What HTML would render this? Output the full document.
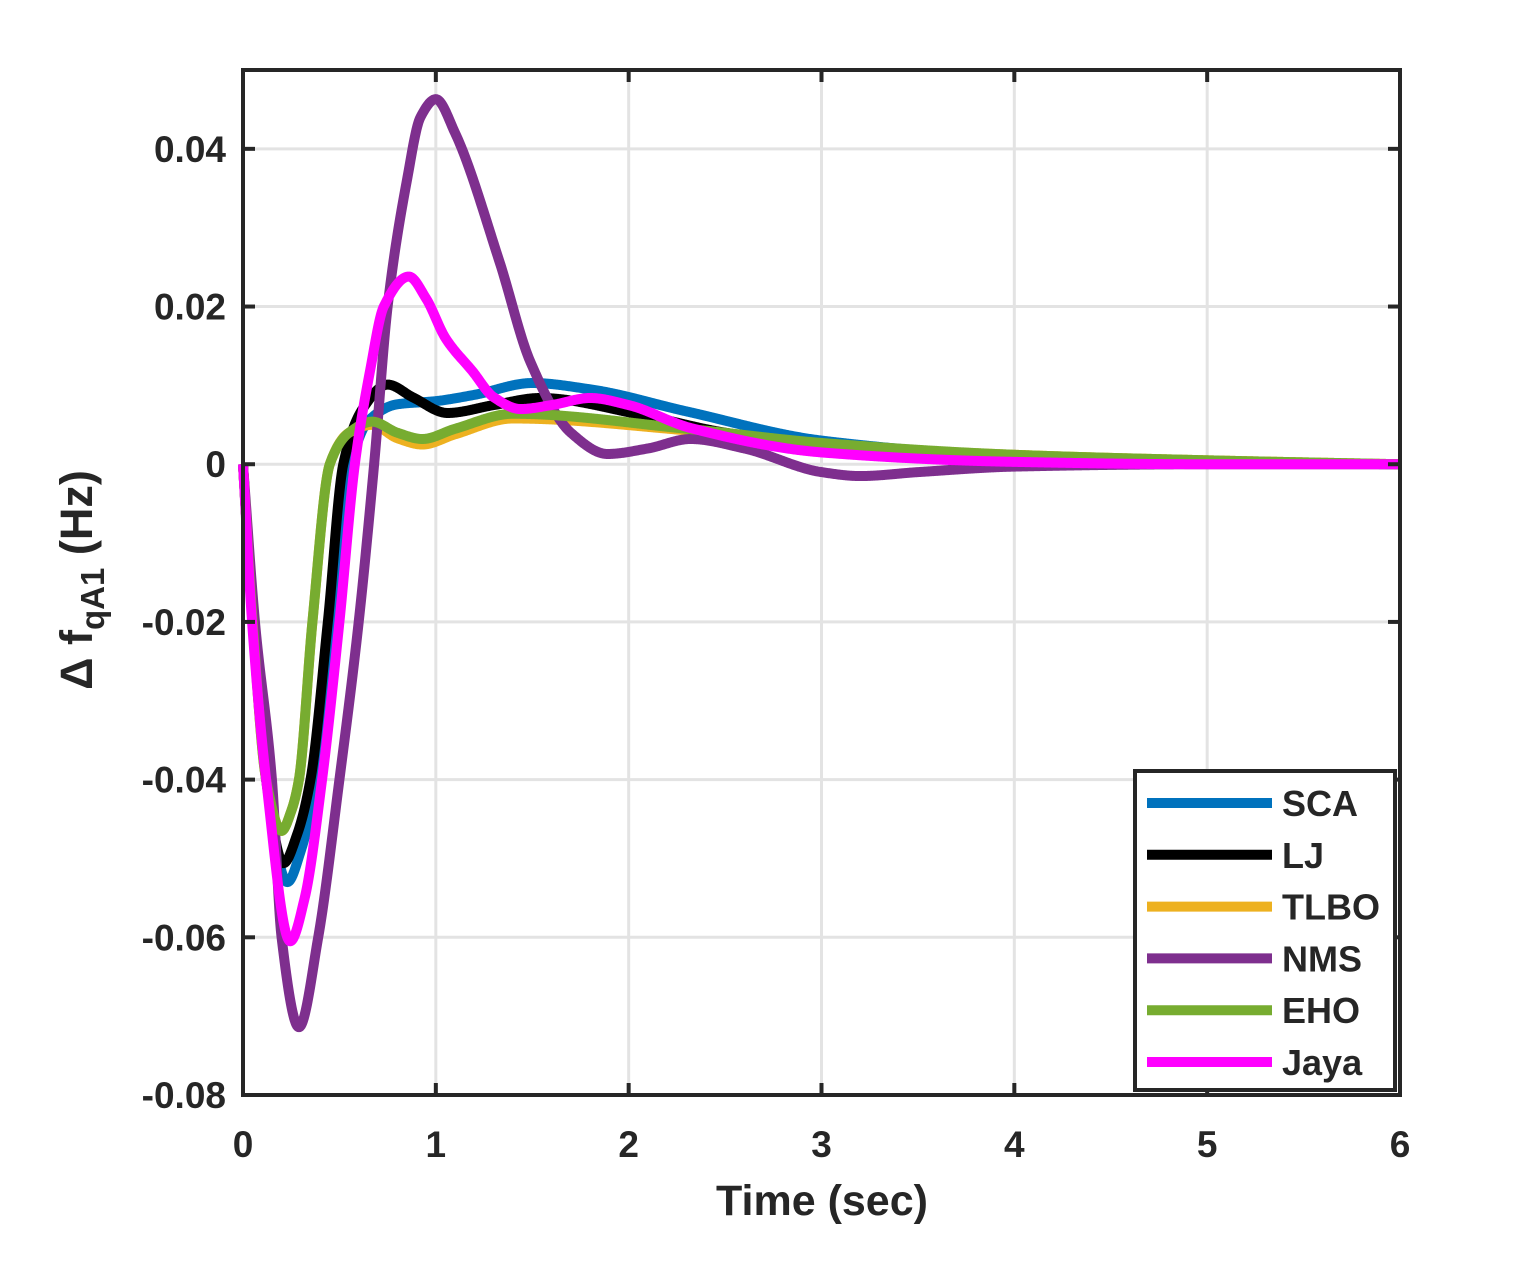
<!DOCTYPE html>
<html><head><meta charset="utf-8"><style>
body{margin:0;background:#fff;}
svg text{font-family:"Liberation Sans",Arial,sans-serif;font-weight:bold;fill:#262626;}
</style></head><body>
<svg id="chart" width="1513" height="1266" viewBox="0 0 1513 1266" xmlns="http://www.w3.org/2000/svg">
<rect width="1513" height="1266" fill="#fff"/>
<g id="grid"></g>
<g id="series"></g>
<g id="axes"></g>
<text x="822" y="1215" font-size="43" text-anchor="middle">Time (sec)</text>
<text transform="translate(92,580) rotate(-90)" font-size="45" text-anchor="middle">Δ f<tspan font-size="33" dy="12">qA1</tspan><tspan dy="-12"> (Hz)</tspan></text>
<g id="legend"></g>
</svg>
<script>
const xTicks=[0,1,2,3,4,5,6];
const yTicks=[0.04,0.02,0,-0.02,-0.04,-0.06,-0.08];
const yTickLabels=["0.04","0.02","0","-0.02","-0.04","-0.06","-0.08"];
const seriesNames=["SCA","LJ","TLBO","NMS","EHO","Jaya"];
const seriesColors=["#0072bd","#000000","#edb120","#7e2f8e","#77ac30","#ff00ff"];
const tSCA=[0,0.05,0.12,0.23,0.3,0.38,0.46,0.56,0.65,0.8,1.0,1.2,1.5,1.8,2.3,3,4,5,6];
const ySCA=[0,-0.02,-0.04,-0.053,-0.049,-0.04,-0.02,0,0.0055,0.0076,0.008,0.0088,0.0103,0.0095,0.0067,0.003,0.001,0.0003,0];
const tLJ=[0,0.05,0.12,0.21,0.28,0.35,0.44,0.52,0.62,0.75,0.88,1.06,1.3,1.54,2.06,2.5,3,4,5,6];
const yLJ=[0,-0.02,-0.04,-0.0506,-0.047,-0.04,-0.02,0,0.007,0.0101,0.0085,0.0065,0.0075,0.0084,0.0063,0.004,0.0025,0.0008,0.0002,0];
const tTLBO=[0,0.05,0.12,0.2,0.25,0.29,0.36,0.45,0.55,0.67,0.8,0.93,1.1,1.4,2.3,3,4,5,6];
const yTLBO=[0,-0.02,-0.04,-0.0465,-0.044,-0.04,-0.02,0,0.004,0.005,0.0033,0.0025,0.0038,0.0058,0.0043,0.0025,0.0012,0.0005,0];
const tNMS=[0,0.062,0.15,0.2,0.29,0.39,0.5,0.6,0.68,0.75,0.85,0.92,1.0,1.1,1.33,1.49,1.7,1.89,2.1,2.32,2.6,3.0,3.2,3.5,4,5,6];
const yNMS=[0,-0.02,-0.04,-0.06,-0.0714,-0.06,-0.04,-0.02,0,0.02,0.036,0.044,0.0463,0.042,0.0257,0.013,0.004,0.0013,0.002,0.0032,0.002,-0.001,-0.0015,-0.001,-0.0003,0,0];
const tEHO=[0,0.05,0.12,0.2,0.25,0.29,0.36,0.45,0.55,0.67,0.8,0.93,1.1,1.4,2.3,3,4,5,6];
const yEHO=[0,-0.02,-0.04,-0.0465,-0.044,-0.04,-0.02,0,0.004,0.0054,0.004,0.0032,0.0045,0.0064,0.0045,0.0027,0.0012,0.0005,0];
const tJaya=[0,0.047,0.12,0.245,0.32,0.41,0.5,0.58,0.66,0.73,0.86,0.95,1.05,1.19,1.3,1.44,1.6,1.8,2.0,2.32,3,4,5,6];
const yJaya=[0,-0.02,-0.04,-0.0605,-0.055,-0.04,-0.02,0,0.012,0.02,0.0238,0.021,0.016,0.0118,0.0085,0.007,0.0075,0.0084,0.0075,0.0046,0.0015,0.0003,0,0];

const L=243,R=1400,T=70,B=1095;
const xS=t=>L+(t-0)/(6-0)*(R-L);
const yS=v=>T+(0.05-v)/(0.05+0.08)*(B-T);
const NS="http://www.w3.org/2000/svg";
function mk(tag,attrs,parent){const e=document.createElementNS(NS,tag);for(const k in attrs)e.setAttribute(k,attrs[k]);parent.appendChild(e);return e;}
const grid=document.getElementById('grid'),axes=document.getElementById('axes'),ser=document.getElementById('series'),leg=document.getElementById('legend');
xTicks.forEach(t=>{
  const g=mk('line',{x1:xS(t),x2:xS(t),y1:T,y2:B,stroke:'#e3e3e3','stroke-width':3},grid);
  
  
  const tk=mk('line',{x1:xS(t),x2:xS(t),y1:B,y2:B-12,stroke:'#262626','stroke-width':4},axes);
  
  
  const tk2=mk('line',{x1:xS(t),x2:xS(t),y1:T,y2:T+12,stroke:'#262626','stroke-width':4},axes);
  
  
  const lb=mk('text',{x:xS(t),y:1157,'font-size':37,'text-anchor':'middle'},axes);
  lb.textContent=String(t);
  
  
});
yTicks.forEach((v,i)=>{
  const g=mk('line',{x1:L,x2:R,y1:yS(v),y2:yS(v),stroke:'#e3e3e3','stroke-width':3},grid);
  
  
  const tk=mk('line',{x1:L,x2:L+12,y1:yS(v),y2:yS(v),stroke:'#262626','stroke-width':4},axes);
  
  
  const tk2=mk('line',{x1:R,x2:R-12,y1:yS(v),y2:yS(v),stroke:'#262626','stroke-width':4},axes);
  
  
  const lb=mk('text',{x:226,y:yS(v)+13,'font-size':37,'text-anchor':'end'},axes);
  lb.textContent=yTickLabels[i];
  
  
});
const box=mk('rect',{x:L,y:T,width:R-L,height:B-T,fill:'none',stroke:'#262626','stroke-width':4},axes);



function monotone(xs,ys){
  const n=xs.length,d=[],m=[];
  for(let i=0;i<n-1;i++)d[i]=(ys[i+1]-ys[i])/(xs[i+1]-xs[i]);
  m[0]=d[0];m[n-1]=d[n-2];
  for(let i=1;i<n-1;i++){
    if(d[i-1]*d[i]<=0)m[i]=0;
    else{const h0=xs[i]-xs[i-1],h1=xs[i+1]-xs[i];const w1=2*h1+h0,w2=h1+2*h0;m[i]=(w1+w2)/(w1/d[i-1]+w2/d[i]);}
  }
  return t=>{let i=0;while(i<n-2&&t>xs[i+1])i++;const h=xs[i+1]-xs[i],s=(t-xs[i])/h;
    const h00=2*s*s*s-3*s*s+1,h10=s*s*s-2*s*s+s,h01=-2*s*s*s+3*s*s,h11=s*s*s-s*s;
    return h00*ys[i]+h10*h*m[i]+h01*ys[i+1]+h11*h*m[i+1];};
}
function path(ts,ys){
  const f=monotone(ts,ys);let d='';
  for(let k=0;k<=1500;k++){const t=6*k/1500;d+=(k?'L':'M')+xS(t).toFixed(2)+','+yS(f(t)).toFixed(2);}
  return d;
}
const allT=[tSCA,tLJ,tTLBO,tNMS,tEHO,tJaya],allY=[ySCA,yLJ,yTLBO,yNMS,yEHO,yJaya];
seriesNames.forEach((n,i)=>{
  const pth=mk('path',{d:path(allT[i],allY[i]),fill:'none',stroke:seriesColors[i],'stroke-width':10,'stroke-linejoin':'round'},ser);
  
  
});
const lbx=mk('rect',{x:1135,y:771,width:260,height:319,fill:'#fff',stroke:'#262626','stroke-width':4},leg);


seriesNames.forEach((n,i)=>{
  const y=803+i*51.8;
  const ln=mk('line',{x1:1147,x2:1272,y1:y,y2:y,stroke:seriesColors[i],'stroke-width':10},leg);
  
  
  const tx=mk('text',{x:1282,y:y+13,'font-size':36,fill:'#000'},leg);
  tx.textContent=n;
  
  
});
</script>
</body></html>
